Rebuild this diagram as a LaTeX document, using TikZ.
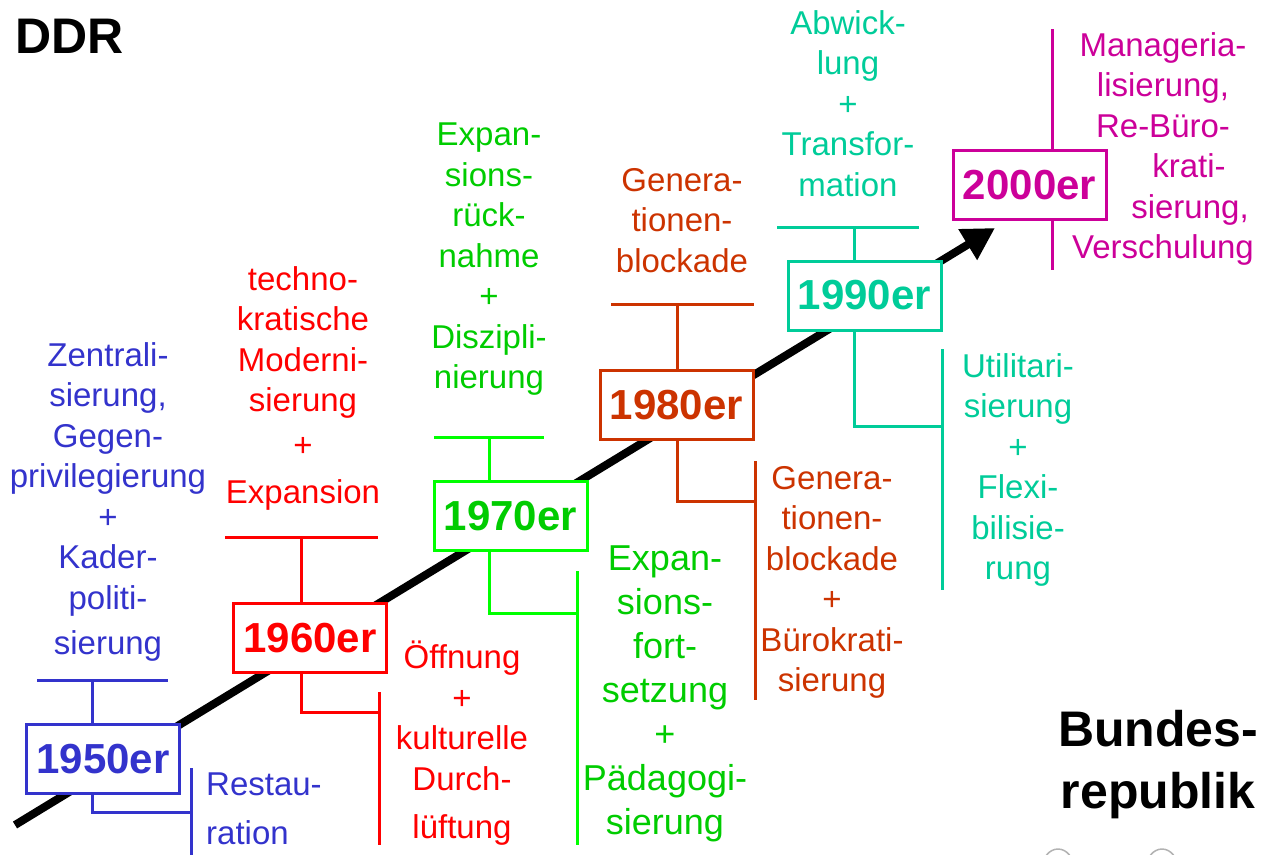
\documentclass[tikz,border=0pt]{standalone}
\usepackage{fontspec}
\setmainfont{Liberation Sans}
\usetikzlibrary{arrows.meta}
\definecolor{cBlue}{HTML}{3333CC}
\definecolor{cRed}{HTML}{FF0000}
\definecolor{cGreen}{HTML}{00CC00}
\definecolor{cGreenLine}{HTML}{00FF00}
\definecolor{cRust}{HTML}{CC3300}
\definecolor{cTeal}{HTML}{00CC99}
\definecolor{cMag}{HTML}{CC0099}
\begin{document}
\begin{tikzpicture}[x=1pt,y=-1pt,
  txt/.style={font=\fontsize{33}{40.5}\selectfont, align=center, inner sep=0pt,
    anchor=north, yshift=-7pt, execute at begin node={\rule{0pt}{30pt}}},
  bigtxt/.style={txt, font=\fontsize{36}{44}\selectfont},
  yearbox/.style={draw, line width=3pt, fill=white, inner sep=0pt,
    minimum width=153pt, minimum height=69pt,
    font=\bfseries\fontsize{42}{42}\selectfont},
  conn/.style={line width=3pt},
  title/.style={font=\bfseries\fontsize{50}{62}\selectfont, inner sep=0pt}
]
\useasboundingbox (0,0) rectangle (1263,854);

% timeline arrow
\coordinate (a0) at (15,825);
\coordinate (a1) at (995,228);
\draw[line width=8pt, -{Triangle[length=32pt,width=34pt]}] (a0) -- (a1);

% headings
\node[title, anchor=base west] (ddr) at (15,53) {DDR};
\node[title, align=center, anchor=north, execute at begin node={\rule{0pt}{40pt}}]
  (brd) at (1158,710) {Bundes-\\republik};

% decade boxes
\node[yearbox, draw=cBlue, text=cBlue] (b50) at (103,759) {1950er};
\node[yearbox, draw=cRed, text=cRed] (b60) at (310,638) {1960er};
\node[yearbox, draw=cGreenLine, text=cGreen] (b70) at (510.5,516) {1970er};
\node[yearbox, draw=cRust, text=cRust] (b80) at (676.5,405) {1980er};
\node[yearbox, draw=cTeal, text=cTeal] (b90) at (864.5,295.5) {1990er};
\node[yearbox, draw=cMag, text=cMag] (b00) at (1029.5,185) {2000er};

% 1950er
\begin{scope}[cBlue]
  \coordinate (j50) at (92,680); \coordinate (l50) at (37,680); \coordinate (r50) at (168,680);
  \coordinate (e50) at (191,812); \coordinate (s50a) at (191,768); \coordinate (s50b) at (191,860);
  \draw[conn] (l50) -- (r50);
  \draw[conn] (b50.north -| j50) -- (j50);
  \draw[conn] (b50.south -| j50) |- (e50);
  \draw[conn] (s50a) -- (s50b);
  \node[txt] (z50) at (108,335) {Zentrali-\\sierung,\\Gegen-\\privilegierung\\+\\Kader-\\politi-\\[4.5pt]sierung};
  \node[txt, align=left, anchor=north west] (r50t) at (206,766) {Restau-\\[8.5pt]ration};
\end{scope}

% 1960er
\begin{scope}[cRed]
  \coordinate (j60) at (301,537); \coordinate (l60) at (225,537); \coordinate (r60) at (378,537);
  \coordinate (e60) at (379,712); \coordinate (s60a) at (379,692); \coordinate (s60b) at (379,845);
  \draw[conn] (l60) -- (r60);
  \draw[conn] (b60.north -| j60) -- (j60);
  \draw[conn] (b60.south -| j60) |- (e60);
  \draw[conn] (s60a) -- (s60b);
  \node[txt] (t60) at (303,259) {techno-\\kratische\\Moderni-\\sierung\\[4.5pt]+\\[6.5pt]Expansion};
  \node[txt] (o60) at (462,634) {Öffnung\\+\\kulturelle\\Durch-\\[7.5pt]lüftung};
\end{scope}

% 1970er
\begin{scope}[cGreenLine]
  \coordinate (j70) at (489,437); \coordinate (l70) at (434,437); \coordinate (r70) at (544,437);
  \coordinate (e70) at (577,613); \coordinate (s70a) at (577,571); \coordinate (s70b) at (577,845);
  \draw[conn] (l70) -- (r70);
  \draw[conn] (b70.north -| j70) -- (j70);
  \draw[conn] (b70.south -| j70) |- (e70);
  \draw[conn] (s70a) -- (s70b);
\end{scope}
\node[txt, text=cGreen] (x70) at (489,116) {Expan-\\sions-\\rück-\\nahme\\+\\Diszipli-\\nierung};
\node[bigtxt, text=cGreen] (f70) at (665,539) {Expan-\\sions-\\fort-\\setzung\\+\\Pädagogi-\\sierung};

% 1980er
\begin{scope}[cRust]
  \coordinate (j80) at (677,304); \coordinate (l80) at (611,304); \coordinate (r80) at (754,304);
  \coordinate (e80) at (755,501); \coordinate (s80a) at (755,461); \coordinate (s80b) at (755,700);
  \draw[conn] (l80) -- (r80);
  \draw[conn] (b80.north -| j80) -- (j80);
  \draw[conn] (b80.south -| j80) |- (e80);
  \draw[conn] (s80a) -- (s80b);
  \node[txt] (g80) at (682,161) {Genera-\\tionen-\\blockade};
  \node[txt] (h80) at (832,459) {Genera-\\tionen-\\blockade\\+\\Bürokrati-\\sierung};
\end{scope}

% 1990er
\begin{scope}[cTeal]
  \coordinate (j90) at (854,227); \coordinate (l90) at (777,227); \coordinate (r90) at (919,227);
  \coordinate (e90) at (942,426); \coordinate (s90a) at (942,349); \coordinate (s90b) at (942,590);
  \draw[conn] (l90) -- (r90);
  \draw[conn] (b90.north -| j90) -- (j90);
  \draw[conn] (b90.south -| j90) |- (e90);
  \draw[conn] (s90a) -- (s90b);
  \node[txt] (a90) at (848,3) {Abwick-\\lung\\+\\Transfor-\\mation};
  \node[txt] (u90) at (1018,346) {Utilitari-\\sierung\\+\\Flexi-\\bilisie-\\rung};
\end{scope}

% 2000er
\begin{scope}[cMag]
  \coordinate (t00) at (1052,29); \coordinate (d00) at (1052,270);
  \draw[conn] (t00) -- (b00.north -| t00);
  \draw[conn] (b00.south -| d00) -- (d00);
  \node[txt] (m00) at (1163,25) {Manageria-\\lisierung,\\Re-Büro-\\\hspace*{52pt}krati-\\\hspace*{54pt}sierung,\\Verschulung};
\end{scope}

% partly visible shapes at the lower edge
\begin{scope}
  \clip (0,0) rectangle (1263,854);
  \draw[gray!60, line width=1.5pt] (1058,869) ellipse [x radius=16, y radius=20];
  \draw[gray!60, line width=1.5pt] (1162,869) ellipse [x radius=16, y radius=20];
\end{scope}
\end{tikzpicture}
\end{document}
